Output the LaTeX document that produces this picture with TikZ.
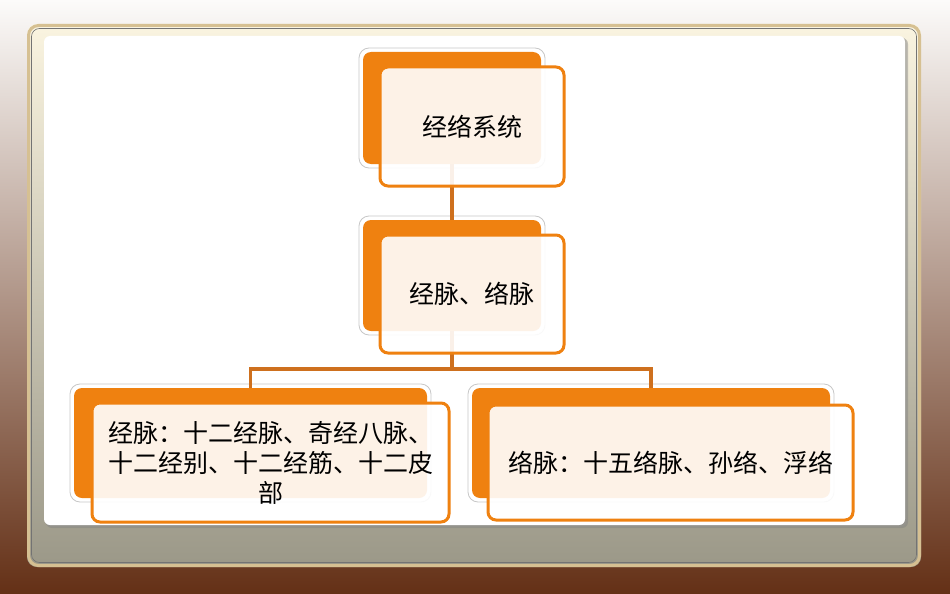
\documentclass[tikz,border=0pt]{standalone}
\usepackage{fontspec}
\setmainfont{Noto Sans CJK SC}
\definecolor{bgtop}{RGB}{252,251,250}
\definecolor{bgmid}{RGB}{172,142,128}
\definecolor{bgbot}{RGB}{100,48,22}
\definecolor{frtop}{RGB}{250,244,224}
\definecolor{frbot}{RGB}{155,152,136}
\definecolor{frtan}{RGB}{214,192,146}
\definecolor{myorange}{RGB}{239,129,16}
\definecolor{conn}{RGB}{206,112,30}
\begin{document}
\begin{tikzpicture}[x=1pt,y=-1pt,
  backline/.style={draw=black!22, fill=white, line width=0.8pt, rounded corners=10pt, inner sep=0pt, outer sep=0pt},
  backbox/.style={fill=myorange, draw=none, rounded corners=8pt, inner sep=0pt, outer sep=0pt},
  frontbox/.style={draw=myorange, line width=3pt, fill=white, fill opacity=0.9, text opacity=1,
    rounded corners=8pt, inner sep=0pt, outer sep=0pt, align=center, text=black,
    font=\fontsize{25}{30}\selectfont},
  connline/.style={draw=conn, line width=3.5pt}]
\useasboundingbox (0,0) rectangle (950,594);
% background
\shade[top color=bgtop, middle color=bgmid, bottom color=bgbot] (0,0) rectangle (950,594);
% frame
\shade[rounded corners=10pt, top color=frtop, bottom color=frbot] (27,24) rectangle (921,567);
\draw[rounded corners=10pt, draw=frtan, line width=3pt] (28.5,25.5) rectangle (919.5,565.5);
\draw[rounded corners=8pt, draw=black!55, line width=0.6pt] (31.5,28.5) rectangle (916.5,562.5);
% panel
\fill[rounded corners=6pt, black!50, opacity=0.45] (46,38) rectangle (908,528);
\fill[rounded corners=6pt, black!40, opacity=0.35] (45,37) rectangle (906.5,526.5);
\fill[rounded corners=6pt, white] (44,36) rectangle (905,525);

% back boxes
\node[backline, minimum width=186pt, minimum height=120pt] (tbo) at (452,108) {};
\node[backbox, minimum width=178pt, minimum height=112pt] (tb) at (452,108) {};
\node[backline, minimum width=186pt, minimum height=119pt] (mbo) at (452,275.5) {};
\node[backbox, minimum width=178pt, minimum height=111pt] (mb) at (452,275.5) {};
\node[backline, minimum width=361pt, minimum height=118pt] (lbo) at (250.5,443) {};
\node[backbox, minimum width=353pt, minimum height=110pt] (lb) at (250.5,443) {};
\node[backline, minimum width=366pt, minimum height=118pt] (rbo) at (651,443) {};
\node[backbox, minimum width=358pt, minimum height=110pt] (rb) at (651,443) {};

% connectors
\coordinate (j) at (452,369);
\draw[connline] (tb.south) -- (mb.north);
\draw[connline] (mb.south) -- (j);
\draw[connline] (lb.north) |- (j) -| (rb.north);

% front boxes
\node[frontbox, minimum width=184pt, minimum height=119pt] (tf) at (472,126.5) {经络系统};
\node[frontbox, minimum width=184pt, minimum height=118pt] (mf) at (472,294) {经脉、络脉};
\node[frontbox, minimum width=357pt, minimum height=119pt] (lf) at (270.5,462.5)
  {经脉：十二经脉、奇经八脉、\\十二经别、十二经筋、十二皮\\部};
\node[frontbox, minimum width=365pt, minimum height=115pt] (rf) at (670.5,462.5)
  {络脉：十五络脉、孙络、浮络};
\end{tikzpicture}
\end{document}
